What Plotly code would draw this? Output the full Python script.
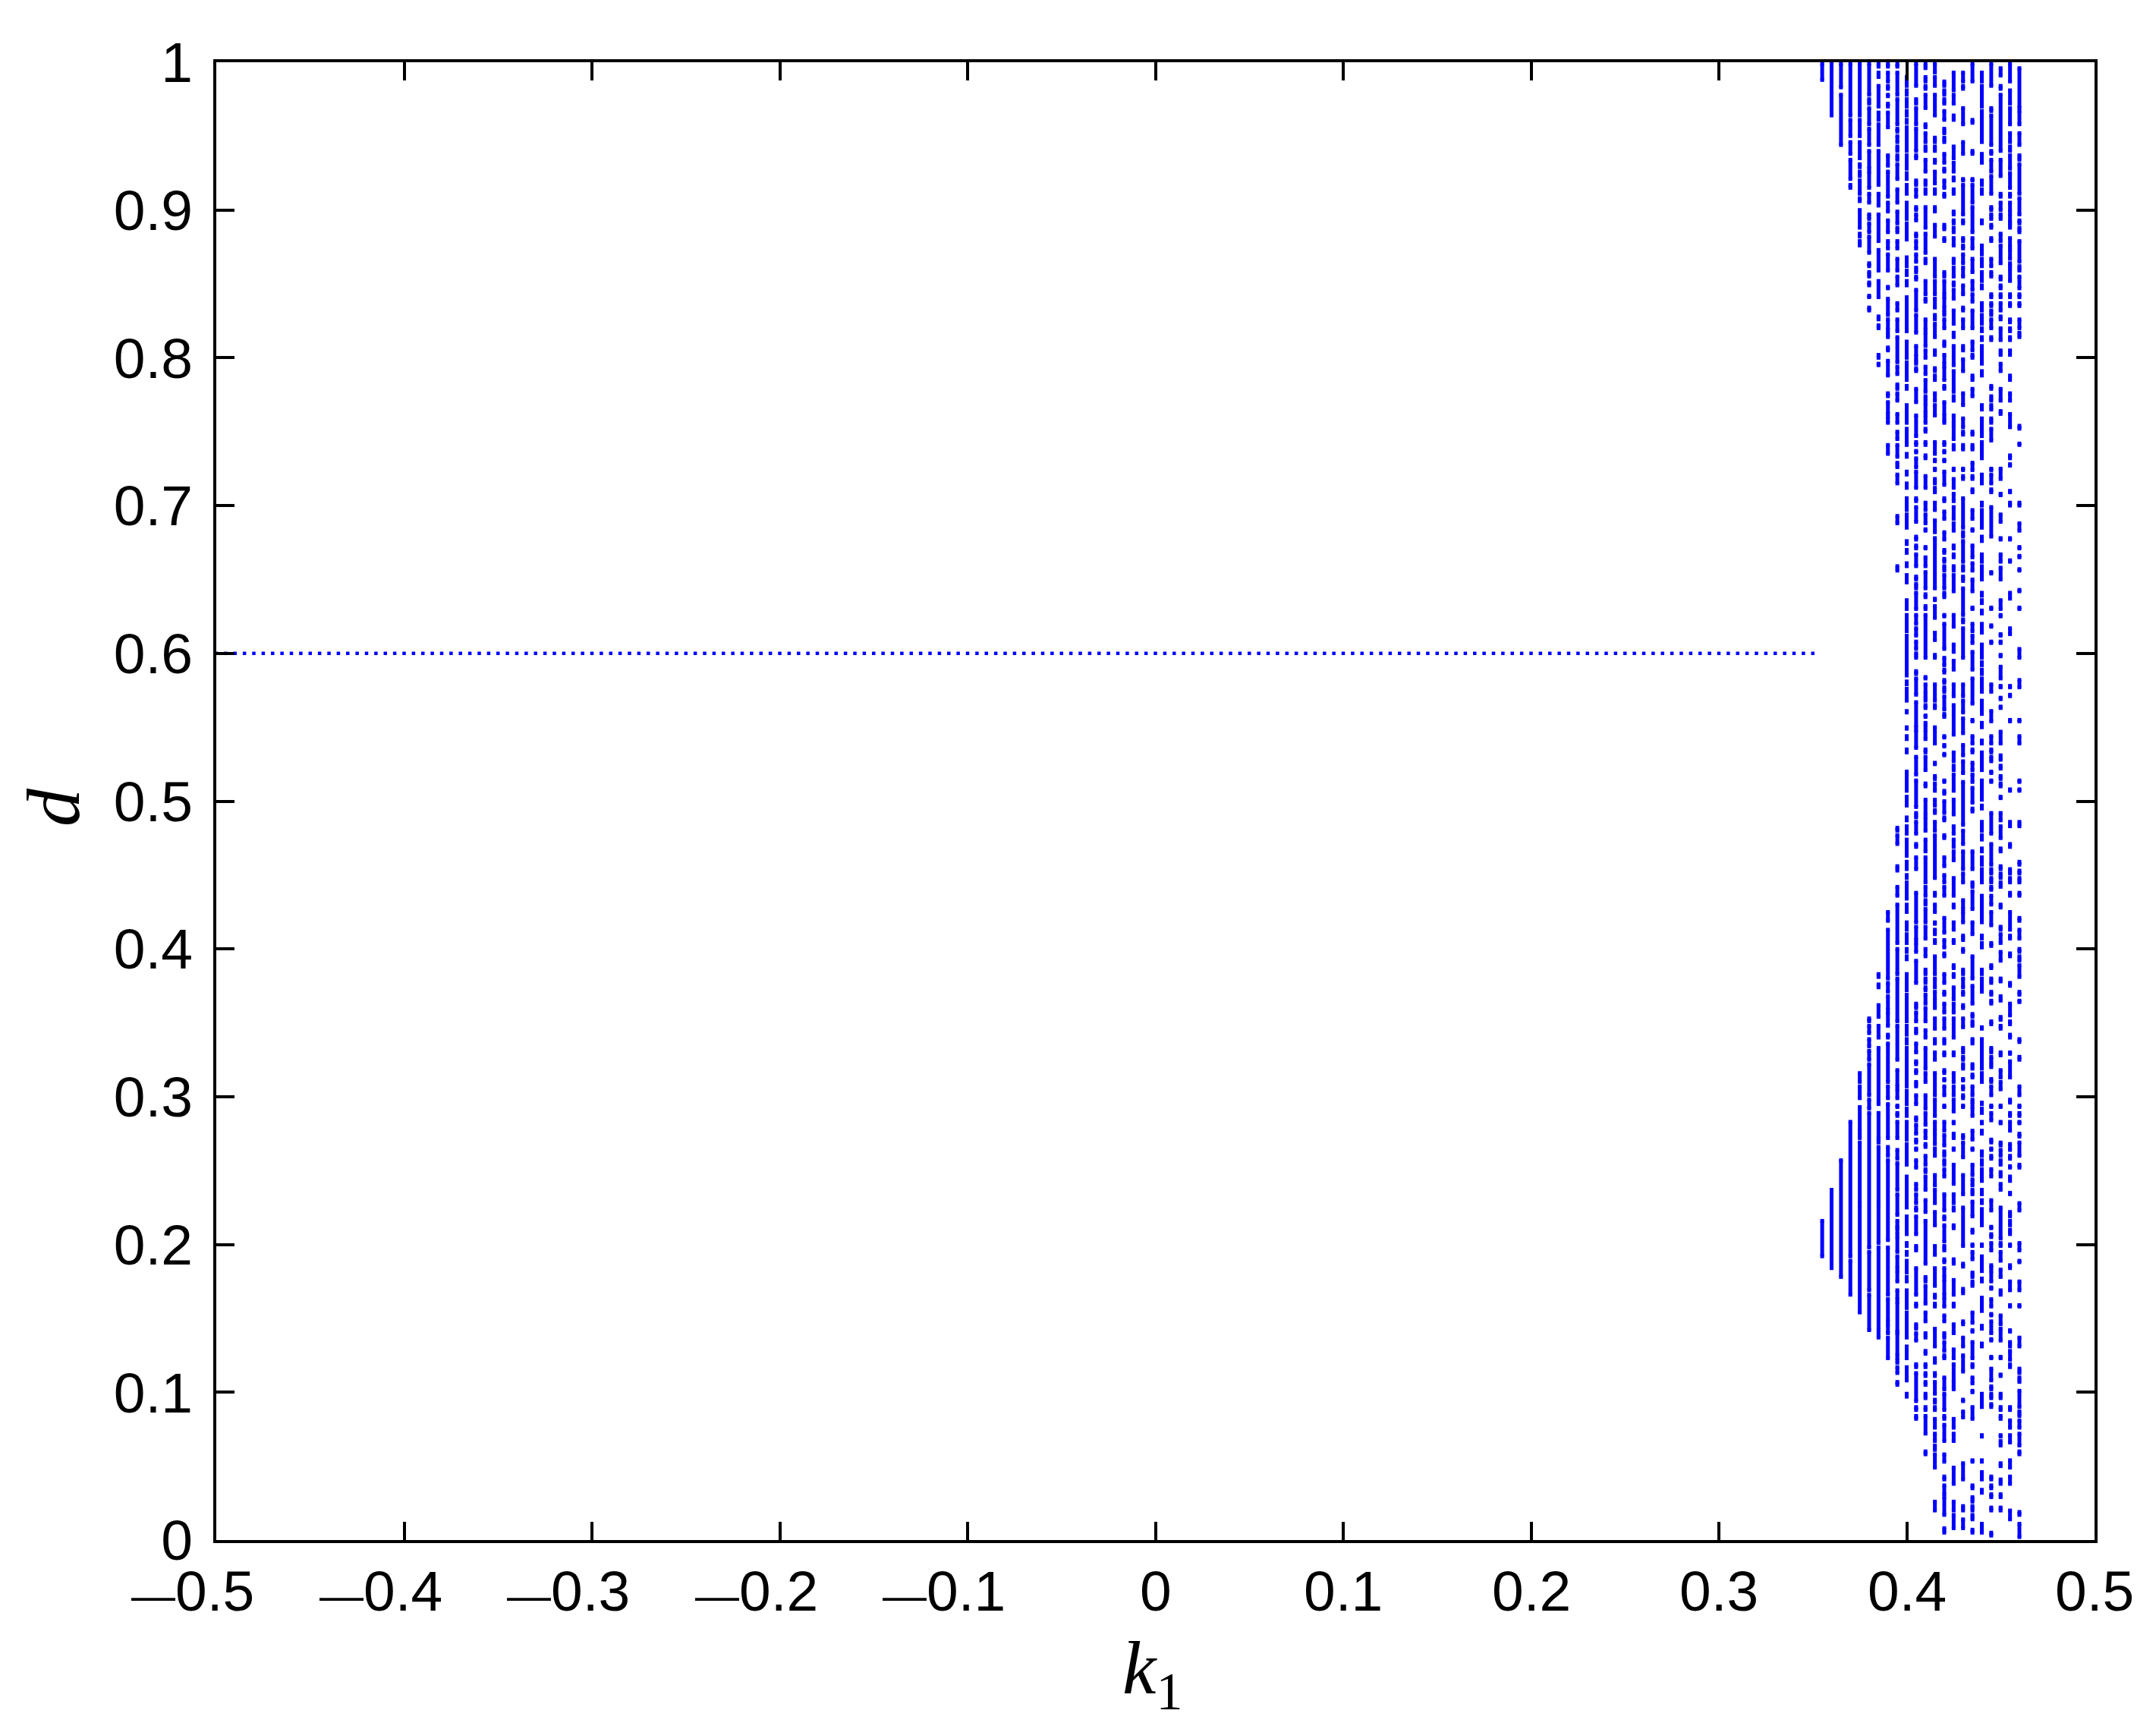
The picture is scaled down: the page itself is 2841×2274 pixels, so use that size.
import numpy as np
import plotly.graph_objects as go

# ---------------- data ----------------
# stable branch: one point every 0.005 in k1, all at d = 0.6
K1_STABLE_START = -0.5
K1_STABLE_END = 0.35
K1_STEP = 0.005
D_STABLE = 0.6

# chaotic region: k1 columns and the d-intervals visible in each column
K1_COLUMNS = [0.355, 0.360, 0.365, 0.370, 0.375, 0.380, 0.385, 0.390, 0.395, 0.400, 0.405,
              0.410, 0.415, 0.420, 0.425, 0.430, 0.435, 0.440, 0.445, 0.450, 0.455, 0.460]

D_0355 = [(0.988,0.999),(0.192,0.216)]
D_0360 = [(0.964,0.999),(0.184,0.237)]
D_0365 = [(0.983,0.999),(0.944,0.978),(0.178,0.257)]
D_0370 = [(0.964,0.999),(0.950,0.961),(0.938,0.946),(0.921,0.934),(0.915,0.917),(0.192,0.283),(0.166,0.189)]
D_0375 = [(0.964,0.999),(0.950,0.961),(0.935,0.946),(0.929,0.931),(0.923,0.926),(0.911,0.920),(0.906,0.908),
          (0.888,0.900),(0.882,0.884),(0.876,0.879),(0.310,0.316),(0.299,0.307),(0.277,0.293),(0.272,0.275),
          (0.228,0.269),(0.154,0.226)]
D_0380 = [(0.978,0.999),(0.972,0.975),(0.958,0.969),(0.944,0.955),(0.928,0.940),(0.915,0.926),(0.905,0.911),
          (0.894,0.897),(0.885,0.891),(0.871,0.882),(0.862,0.864),(0.855,0.858),(0.849,0.851),(0.841,0.842),
          (0.832,0.834),(0.351,0.353),(0.343,0.348),(0.334,0.339),(0.325,0.331),(0.301,0.322),(0.292,0.298),
          (0.198,0.289),(0.169,0.195),(0.142,0.166)]
D_0385 = [(0.997,0.999),(0.990,0.993),(0.970,0.984),(0.961,0.966),(0.944,0.958),(0.917,0.940),(0.903,0.911),
          (0.879,0.897),(0.859,0.873),(0.841,0.852),(0.826,0.828),(0.820,0.822),(0.800,0.802),(0.795,0.796),
          (0.381,0.383),(0.374,0.376),(0.354,0.362),(0.340,0.348),(0.295,0.333),(0.272,0.289),(0.269,0.271),
          (0.228,0.266),(0.201,0.226),(0.142,0.198),(0.137,0.140)]
D_0390 = [(0.997,0.999),(0.987,0.993),(0.982,0.984),(0.977,0.978),(0.970,0.972),(0.956,0.966),(0.930,0.937),
          (0.909,0.926),(0.899,0.905),(0.885,0.893),(0.874,0.879),(0.859,0.870),(0.847,0.848),(0.829,0.840),
          (0.819,0.826),(0.814,0.817),(0.805,0.807),(0.788,0.798),(0.774,0.776),(0.762,0.770),(0.756,0.760),
          (0.735,0.741),(0.419,0.425),(0.380,0.413),(0.371,0.377),(0.359,0.368),(0.348,0.357),(0.340,0.342),
          (0.310,0.336),(0.299,0.307),(0.272,0.295),(0.260,0.266),(0.203,0.257),(0.166,0.198),(0.148,0.163),
          (0.140,0.146),(0.123,0.137)]
D_0395 = [(0.997,0.999),(0.978,0.993),(0.958,0.975),(0.953,0.955),(0.946,0.950),(0.940,0.943),(0.934,0.937),
          (0.921,0.931),(0.905,0.914),(0.891,0.899),(0.885,0.888),(0.874,0.879),(0.859,0.867),(0.849,0.855),
          (0.832,0.837),(0.818,0.826),(0.797,0.814),(0.789,0.794),(0.779,0.782),(0.771,0.776),(0.756,0.762),
          (0.745,0.750),(0.733,0.741),(0.726,0.729),(0.715,0.721),(0.688,0.693),(0.656,0.659),(0.480,0.482),
          (0.471,0.477),(0.453,0.456),(0.436,0.442),(0.404,0.430),(0.383,0.400),(0.351,0.380),(0.325,0.348),
          (0.307,0.318),(0.299,0.305),(0.293,0.294),(0.287,0.289),(0.272,0.283),(0.258,0.264),(0.237,0.255),
          (0.220,0.234),(0.212,0.216),(0.207,0.211),(0.195,0.205),(0.184,0.192),(0.175,0.182),(0.163,0.169),
          (0.141,0.161),(0.125,0.140),(0.120,0.123),(0.113,0.117),(0.105,0.107)]
D_0400 = [(0.984,0.990),(0.978,0.981),(0.970,0.975),(0.964,0.967),(0.959,0.961),(0.940,0.956),(0.928,0.937),
          (0.921,0.925),(0.911,0.917),(0.894,0.905),(0.880,0.891),(0.862,0.868),(0.856,0.859),(0.849,0.852),
          (0.818,0.841),(0.809,0.811),(0.800,0.808),(0.790,0.797),(0.785,0.788),(0.779,0.781),(0.761,0.768),
          (0.756,0.759),(0.741,0.752),(0.733,0.735),(0.721,0.723),(0.712,0.715),(0.697,0.705),(0.685,0.694),
          (0.674,0.676),(0.668,0.670),(0.659,0.661),(0.648,0.653),(0.630,0.636),(0.615,0.626),(0.585,0.612),
          (0.579,0.581),(0.568,0.576),(0.560,0.561),(0.549,0.550),(0.542,0.544),(0.533,0.535),(0.514,0.520),
          (0.507,0.512),(0.497,0.503),(0.487,0.489),(0.478,0.483),(0.463,0.474),(0.454,0.459),(0.448,0.450),
          (0.434,0.445),(0.425,0.430),(0.413,0.418),(0.404,0.410),(0.398,0.400),(0.393,0.395),(0.372,0.383),
          (0.351,0.369),(0.342,0.348),(0.336,0.339),(0.324,0.333),(0.307,0.322),(0.295,0.304),(0.287,0.292),
          (0.271,0.283),(0.254,0.268),(0.230,0.246),(0.225,0.228),(0.207,0.219),(0.199,0.201),(0.193,0.195),
          (0.181,0.189),(0.175,0.178),(0.157,0.169),(0.137,0.154),(0.123,0.131),(0.108,0.117),(0.097,0.099)]
D_0405 = [(0.984,0.999),(0.972,0.975),(0.958,0.969),(0.940,0.955),(0.935,0.937),(0.917,0.920),(0.909,0.914),
          (0.900,0.902),(0.893,0.897),(0.882,0.884),(0.874,0.879),(0.865,0.870),(0.858,0.861),(0.853,0.855),
          (0.832,0.846),(0.817,0.829),(0.801,0.808),(0.796,0.799),(0.791,0.793),(0.770,0.779),(0.747,0.761),
          (0.741,0.743),(0.736,0.737),(0.726,0.732),(0.712,0.723),(0.703,0.705),(0.689,0.699),(0.677,0.679),
          (0.671,0.673),(0.659,0.667),(0.650,0.652),(0.644,0.647),(0.630,0.641),(0.620,0.626),(0.612,0.617),
          (0.603,0.608),(0.597,0.600),(0.586,0.588),(0.572,0.583),(0.550,0.567),(0.536,0.548),(0.518,0.530),
          (0.496,0.514),(0.489,0.492),(0.478,0.486),(0.469,0.471),(0.454,0.462),(0.418,0.438),(0.406,0.415),
          (0.398,0.404),(0.377,0.392),(0.360,0.363),(0.351,0.357),(0.343,0.346),(0.330,0.336),(0.322,0.324),
          (0.316,0.318),(0.307,0.310),(0.295,0.301),(0.284,0.286),(0.275,0.281),(0.269,0.271),(0.264,0.265),
          (0.252,0.257),(0.237,0.241),(0.228,0.234),(0.223,0.225),(0.207,0.219),(0.196,0.199),(0.166,0.184),
          (0.158,0.160),(0.143,0.146),(0.135,0.140),(0.117,0.119),(0.094,0.113),(0.088,0.090),(0.082,0.084)]
D_0410 = [(0.996,0.999),(0.987,0.990),(0.982,0.984),(0.969,0.978),(0.956,0.958),(0.946,0.952),(0.940,0.943),
          (0.926,0.934),(0.917,0.920),(0.911,0.914),(0.888,0.902),(0.871,0.884),(0.864,0.867),(0.843,0.852),
          (0.838,0.840),(0.819,0.826),(0.808,0.817),(0.800,0.805),(0.789,0.794),(0.777,0.785),(0.771,0.774),
          (0.763,0.769),(0.756,0.761),(0.750,0.752),(0.741,0.743),(0.732,0.734),(0.712,0.720),(0.697,0.702),
          (0.688,0.694),(0.683,0.684),(0.671,0.672),(0.659,0.665),(0.644,0.655),(0.638,0.640),(0.630,0.632),
          (0.597,0.626),(0.583,0.584),(0.573,0.579),(0.568,0.571),(0.563,0.565),(0.557,0.558),(0.550,0.553),
          (0.542,0.548),(0.533,0.535),(0.521,0.530),(0.510,0.512),(0.491,0.501),(0.480,0.489),(0.466,0.474),
          (0.445,0.462),(0.436,0.442),(0.430,0.433),(0.418,0.427),(0.407,0.415),(0.395,0.400),(0.383,0.386),
          (0.377,0.380),(0.372,0.374),(0.363,0.369),(0.351,0.360),(0.340,0.345),(0.319,0.333),(0.310,0.316),
          (0.292,0.301),(0.281,0.289),(0.272,0.277),(0.266,0.268),(0.254,0.260),(0.249,0.251),(0.237,0.246),
          (0.222,0.230),(0.187,0.216),(0.175,0.178),(0.160,0.172),(0.148,0.154),(0.137,0.140),(0.126,0.128),
          (0.117,0.119),(0.111,0.113),(0.105,0.107),(0.096,0.099),(0.088,0.090),(0.072,0.084),(0.058,0.060)]
D_0415 = [(0.993,0.999),(0.984,0.990),(0.964,0.978),(0.946,0.949),(0.940,0.943),(0.932,0.934),(0.918,0.926),
          (0.911,0.914),(0.899,0.902),(0.882,0.890),(0.855,0.867),(0.843,0.852),(0.834,0.840),(0.826,0.829),
          (0.814,0.823),(0.802,0.805),(0.791,0.793),(0.785,0.788),(0.771,0.776),(0.761,0.768),(0.735,0.743),
          (0.730,0.731),(0.724,0.725),(0.715,0.718),(0.709,0.712),(0.697,0.702),(0.682,0.690),(0.644,0.678),
          (0.636,0.637),(0.624,0.632),(0.609,0.614),(0.597,0.599),(0.568,0.579),(0.563,0.565),(0.539,0.550),
          (0.525,0.526),(0.515,0.517),(0.507,0.512),(0.497,0.501),(0.492,0.494),(0.480,0.486),(0.448,0.477),
          (0.436,0.438),(0.425,0.430),(0.417,0.418),(0.410,0.413),(0.404,0.406),(0.383,0.395),(0.374,0.380),
          (0.365,0.371),(0.360,0.363),(0.346,0.353),(0.336,0.339),(0.325,0.330),(0.301,0.316),(0.287,0.298),
          (0.277,0.283),(0.268,0.275),(0.260,0.265),(0.240,0.247),(0.228,0.237),(0.213,0.222),(0.193,0.199),
          (0.172,0.184),(0.164,0.166),(0.158,0.160),(0.131,0.143),(0.120,0.123),(0.111,0.113),(0.099,0.107),
          (0.093,0.095),(0.088,0.090),(0.076,0.082),(0.067,0.072),(0.061,0.064),(0.049,0.058),(0.020,0.026)]
D_0420 = [(0.984,0.987),(0.978,0.981),(0.972,0.975),(0.961,0.967),(0.952,0.955),(0.946,0.949),(0.932,0.938),
          (0.926,0.928),(0.915,0.920),(0.909,0.911),(0.887,0.890),(0.879,0.881),(0.855,0.858),(0.843,0.852),
          (0.834,0.841),(0.829,0.832),(0.820,0.826),(0.808,0.811),(0.796,0.802),(0.785,0.794),(0.779,0.781),
          (0.761,0.770),(0.756,0.759),(0.741,0.743),(0.736,0.737),(0.730,0.731),(0.714,0.723),(0.703,0.705),
          (0.691,0.696),(0.677,0.682),(0.668,0.670),(0.662,0.664),(0.656,0.659),(0.644,0.653),(0.638,0.641),
          (0.625,0.626),(0.603,0.620),(0.592,0.597),(0.587,0.589),(0.580,0.582),(0.574,0.577),(0.562,0.571),
          (0.557,0.559),(0.543,0.544),(0.537,0.538),(0.531,0.532),(0.513,0.514),(0.505,0.507),(0.492,0.500),
          (0.487,0.489),(0.475,0.477),(0.456,0.462),(0.445,0.450),(0.436,0.442),(0.411,0.421),(0.401,0.406),
          (0.395,0.397),(0.377,0.383),(0.369,0.371),(0.357,0.363),(0.346,0.353),(0.336,0.339),(0.328,0.330),
          (0.316,0.318),(0.311,0.312),(0.301,0.307),(0.293,0.294),(0.277,0.283),(0.267,0.274),(0.260,0.263),
          (0.254,0.257),(0.246,0.251),(0.223,0.234),(0.217,0.219),(0.202,0.213),(0.196,0.199),(0.188,0.190),
          (0.178,0.184),(0.166,0.176),(0.158,0.164),(0.148,0.152),(0.137,0.140),(0.128,0.134),(0.123,0.125),
          (0.102,0.110),(0.088,0.099),(0.082,0.084),(0.067,0.078),(0.053,0.058),(0.041,0.043),(0.031,0.037),
          (0.017,0.029),(0.005,0.008)]
D_0425 = [(0.981,0.993),(0.972,0.978),(0.961,0.964),(0.935,0.943),(0.926,0.932),(0.920,0.922),(0.911,0.914),
          (0.897,0.899),(0.891,0.893),(0.885,0.888),(0.876,0.881),(0.864,0.867),(0.855,0.861),(0.849,0.851),
          (0.840,0.846),(0.823,0.832),(0.814,0.817),(0.795,0.808),(0.777,0.791),(0.771,0.774),(0.756,0.761),
          (0.745,0.754),(0.738,0.741),(0.724,0.725),(0.712,0.718),(0.703,0.708),(0.691,0.699),(0.683,0.688),
          (0.671,0.673),(0.665,0.667),(0.656,0.659),(0.642,0.653),(0.618,0.626),(0.601,0.606),(0.589,0.595),
          (0.571,0.579),(0.545,0.565),(0.527,0.533),(0.521,0.524),(0.507,0.518),(0.491,0.501),(0.478,0.483),
          (0.469,0.474),(0.460,0.466),(0.436,0.448),(0.428,0.430),(0.413,0.418),(0.404,0.406),(0.387,0.389),
          (0.381,0.383),(0.366,0.374),(0.357,0.363),(0.340,0.353),(0.328,0.330),(0.310,0.316),(0.301,0.307),
          (0.290,0.298),(0.282,0.283),(0.272,0.275),(0.264,0.265),(0.241,0.254),(0.228,0.234),(0.223,0.225),
          (0.211,0.213),(0.187,0.190),(0.166,0.176),(0.158,0.160),(0.140,0.146),(0.123,0.129),(0.107,0.119),
          (0.102,0.105),(0.076,0.082),(0.067,0.072),(0.038,0.049),(0.020,0.026),(0.008,0.017)]
D_0430 = [(0.987,0.993),(0.982,0.984),(0.958,0.969),(0.938,0.946),(0.920,0.921),(0.897,0.917),(0.891,0.893),
          (0.879,0.881),(0.874,0.876),(0.864,0.870),(0.855,0.861),(0.843,0.849),(0.832,0.834),(0.820,0.826),
          (0.805,0.808),(0.791,0.799),(0.768,0.776),(0.753,0.759),(0.748,0.750),(0.738,0.741),(0.724,0.725),
          (0.718,0.720),(0.685,0.705),(0.679,0.682),(0.662,0.676),(0.656,0.659),(0.649,0.652),(0.626,0.644),
          (0.621,0.623),(0.597,0.617),(0.571,0.579),(0.560,0.568),(0.546,0.556),(0.531,0.538),(0.519,0.527),
          (0.484,0.513),(0.471,0.480),(0.454,0.466),(0.445,0.451),(0.427,0.433),(0.418,0.425),(0.406,0.409),
          (0.398,0.400),(0.383,0.386),(0.374,0.380),(0.369,0.371),(0.360,0.362),(0.347,0.353),(0.330,0.333),
          (0.325,0.327),(0.319,0.322),(0.311,0.312),(0.305,0.307),(0.299,0.301),(0.293,0.294),(0.272,0.274),
          (0.259,0.269),(0.234,0.247),(0.199,0.225),(0.185,0.187),(0.167,0.170),(0.146,0.148),(0.131,0.137),
          (0.114,0.125),(0.094,0.095),(0.083,0.087),(0.041,0.052),(0.020,0.023),(0.008,0.014)]
D_0435 = [(0.987,0.999),(0.959,0.961),(0.938,0.940),(0.920,0.921),(0.905,0.917),(0.885,0.902),(0.874,0.881),
          (0.858,0.867),(0.846,0.852),(0.838,0.843),(0.820,0.832),(0.805,0.811),(0.800,0.802),(0.785,0.788),
          (0.774,0.779),(0.748,0.750),(0.738,0.741),(0.724,0.729),(0.718,0.720),(0.709,0.711),(0.691,0.697),
          (0.683,0.684),(0.665,0.673),(0.656,0.661),(0.642,0.650),(0.630,0.631),(0.615,0.620),(0.607,0.612),
          (0.589,0.601),(0.566,0.583),(0.554,0.555),(0.539,0.544),(0.533,0.535),(0.521,0.526),(0.513,0.518),
          (0.499,0.509),(0.493,0.495),(0.454,0.466),(0.442,0.445),(0.427,0.439),(0.410,0.418),(0.380,0.395),
          (0.363,0.375),(0.354,0.356),(0.348,0.351),(0.336,0.339),(0.319,0.322),(0.313,0.315),(0.301,0.307),
          (0.295,0.298),(0.287,0.293),(0.271,0.277),(0.264,0.265),(0.247,0.254),(0.240,0.244),(0.234,0.237),
          (0.219,0.229),(0.208,0.210),(0.199,0.200),(0.190,0.195),(0.178,0.181),(0.172,0.175),(0.147,0.154),
          (0.141,0.142),(0.123,0.134),(0.117,0.119),(0.106,0.110),(0.100,0.101),(0.082,0.090),(0.053,0.054),
          (0.035,0.037),(0.026,0.029),(0.020,0.023),(0.014,0.017),(0.005,0.007)]
D_0440 = [(0.987,0.993),(0.970,0.984),(0.958,0.967),(0.946,0.956),(0.932,0.938),(0.917,0.920),(0.911,0.914),
          (0.891,0.893),(0.870,0.876),(0.862,0.867),(0.852,0.858),(0.847,0.849),(0.832,0.837),(0.823,0.829),
          (0.818,0.820),(0.812,0.814),(0.796,0.808),(0.788,0.791),(0.765,0.768),(0.747,0.759),(0.732,0.743),
          (0.715,0.721),(0.700,0.702),(0.685,0.697),(0.676,0.679),(0.662,0.667),(0.650,0.659),(0.639,0.641),
          (0.634,0.636),(0.627,0.629),(0.614,0.620),(0.597,0.606),(0.592,0.594),(0.586,0.589),(0.574,0.583),
          (0.559,0.568),(0.550,0.553),(0.539,0.541),(0.521,0.533),(0.509,0.514),(0.501,0.507),(0.495,0.497),
          (0.480,0.486),(0.474,0.477),(0.466,0.468),(0.457,0.462),(0.445,0.454),(0.418,0.436),(0.407,0.409),
          (0.401,0.404),(0.383,0.386),(0.371,0.380),(0.346,0.347),(0.330,0.339),(0.319,0.328),(0.310,0.316),
          (0.295,0.296),(0.289,0.292),(0.282,0.283),(0.275,0.277),(0.260,0.263),(0.254,0.257),(0.248,0.251),
          (0.243,0.246),(0.234,0.237),(0.228,0.230),(0.213,0.224),(0.199,0.200),(0.182,0.192),(0.175,0.177),
          (0.155,0.164),(0.143,0.145),(0.131,0.133),(0.090,0.099),(0.070,0.071),(0.053,0.054),(0.041,0.046),
          (0.032,0.034),(0.005,0.011)]
D_0445 = [(0.984,0.999),(0.967,0.969),(0.944,0.964),(0.938,0.940),(0.926,0.934),(0.911,0.923),(0.900,0.902),
          (0.894,0.897),(0.888,0.890),(0.879,0.881),(0.862,0.867),(0.855,0.858),(0.841,0.843),(0.835,0.837),
          (0.829,0.832),(0.820,0.826),(0.812,0.814),(0.779,0.781),(0.771,0.774),(0.765,0.768),(0.756,0.759),
          (0.744,0.752),(0.724,0.725),(0.715,0.721),(0.709,0.711),(0.679,0.699),(0.654,0.655),(0.630,0.631),
          (0.618,0.619),(0.607,0.608),(0.574,0.579),(0.554,0.561),(0.539,0.544),(0.533,0.535),(0.527,0.530),
          (0.519,0.520),(0.513,0.514),(0.478,0.492),(0.457,0.471),(0.451,0.454),(0.445,0.448),(0.440,0.442),
          (0.430,0.436),(0.416,0.425),(0.402,0.404),(0.387,0.389),(0.377,0.380),(0.369,0.371),(0.363,0.365),
          (0.349,0.351),(0.330,0.333),(0.325,0.327),(0.320,0.323),(0.310,0.312),(0.301,0.307),(0.293,0.294),
          (0.284,0.289),(0.269,0.271),(0.264,0.265),(0.258,0.260),(0.246,0.251),(0.223,0.230),(0.211,0.212),
          (0.205,0.207),(0.196,0.201),(0.184,0.186),(0.175,0.182),(0.170,0.171),(0.158,0.163),(0.152,0.153),
          (0.140,0.148),(0.135,0.136),(0.123,0.124),(0.108,0.116),(0.102,0.104),(0.096,0.099),(0.090,0.092),
          (0.041,0.043),(0.035,0.037),(0.029,0.031),(0.020,0.022),(0.003,0.005)]
D_0450 = [(0.991,0.996),(0.982,0.984),(0.940,0.978),(0.923,0.934),(0.909,0.911),(0.900,0.905),(0.894,0.897),
          (0.879,0.884),(0.864,0.876),(0.853,0.855),(0.847,0.849),(0.841,0.843),(0.832,0.837),(0.826,0.828),
          (0.812,0.820),(0.802,0.805),(0.791,0.796),(0.771,0.779),(0.762,0.764),(0.718,0.725),(0.707,0.708),
          (0.689,0.694),(0.677,0.678),(0.662,0.667),(0.650,0.658),(0.630,0.636),(0.625,0.626),(0.612,0.613),
          (0.607,0.608),(0.598,0.599),(0.583,0.591),(0.577,0.578),(0.569,0.570),(0.563,0.564),(0.539,0.547),
          (0.528,0.531),(0.522,0.524),(0.515,0.517),(0.510,0.512),(0.502,0.503),(0.487,0.492),(0.475,0.483),
          (0.466,0.468),(0.454,0.456),(0.448,0.451),(0.442,0.445),(0.428,0.430),(0.413,0.415),(0.404,0.410),
          (0.392,0.398),(0.378,0.380),(0.365,0.368),(0.352,0.354),(0.346,0.348),(0.328,0.330),(0.313,0.318),
          (0.305,0.310),(0.293,0.294),(0.282,0.283),(0.267,0.269),(0.260,0.264),(0.254,0.257),(0.246,0.249),
          (0.237,0.241),(0.204,0.225),(0.199,0.201),(0.189,0.195),(0.178,0.183),(0.166,0.169),(0.146,0.152),
          (0.135,0.143),(0.123,0.124),(0.111,0.112),(0.096,0.099),(0.088,0.090),(0.082,0.084),(0.070,0.071),
          (0.064,0.067),(0.050,0.052),(0.038,0.041),(0.029,0.031),(0.020,0.022)]
D_0455 = [(0.987,0.999),(0.972,0.981),(0.958,0.969),(0.946,0.952),(0.940,0.943),(0.928,0.937),(0.915,0.925),
          (0.909,0.911),(0.899,0.905),(0.892,0.897),(0.888,0.891),(0.875,0.881),(0.867,0.873),(0.862,0.864),
          (0.852,0.860),(0.841,0.843),(0.835,0.837),(0.824,0.826),(0.818,0.820),(0.812,0.814),(0.802,0.805),
          (0.785,0.788),(0.771,0.776),(0.753,0.762),(0.732,0.734),(0.727,0.728),(0.709,0.710),(0.700,0.702),
          (0.677,0.678),(0.662,0.663),(0.637,0.641),(0.613,0.617),(0.577,0.578),(0.571,0.572),(0.554,0.555),
          (0.507,0.508),(0.483,0.486),(0.469,0.471),(0.451,0.454),(0.445,0.448),(0.436,0.438),(0.413,0.425),
          (0.407,0.409),(0.395,0.397),(0.375,0.377),(0.355,0.363),(0.349,0.351),(0.340,0.342),(0.329,0.330),
          (0.313,0.324),(0.296,0.298),(0.287,0.289),(0.277,0.283),(0.264,0.268),(0.258,0.260),(0.252,0.253),
          (0.243,0.246),(0.234,0.235),(0.219,0.222),(0.213,0.216),(0.207,0.210),(0.199,0.200),(0.184,0.186),
          (0.169,0.175),(0.158,0.159),(0.141,0.142),(0.131,0.134),(0.122,0.128),(0.117,0.119),(0.088,0.090),
          (0.076,0.081),(0.066,0.071),(0.049,0.054),(0.038,0.043),(0.014,0.020)]
D_0460 = [(0.969,0.996),(0.958,0.967),(0.944,0.952),(0.934,0.937),(0.911,0.931),(0.897,0.908),(0.891,0.893),
          (0.885,0.888),(0.865,0.879),(0.859,0.862),(0.847,0.855),(0.841,0.843),(0.835,0.837),(0.820,0.826),
          (0.814,0.817),(0.752,0.754),(0.741,0.742),(0.700,0.702),(0.683,0.688),(0.671,0.672),(0.665,0.666),
          (0.656,0.657),(0.642,0.643),(0.630,0.631),(0.597,0.603),(0.577,0.582),(0.554,0.555),(0.539,0.544),
          (0.513,0.514),(0.507,0.508),(0.483,0.486),(0.457,0.459),(0.451,0.453),(0.445,0.448),(0.436,0.438),
          (0.419,0.421),(0.407,0.413),(0.398,0.400),(0.392,0.395),(0.381,0.389),(0.369,0.371),(0.364,0.365),
          (0.337,0.339),(0.325,0.327),(0.301,0.307),(0.293,0.294),(0.287,0.289),(0.282,0.283),(0.273,0.275),
          (0.260,0.269),(0.252,0.254),(0.223,0.228),(0.196,0.201),(0.188,0.189),(0.169,0.175),(0.158,0.159),
          (0.131,0.137),(0.113,0.116),(0.107,0.110),(0.090,0.101),(0.084,0.087),(0.076,0.081),(0.064,0.072),
          (0.058,0.060),(0.017,0.019),(0.002,0.011)]

D_COLUMNS = [D_0355, D_0360, D_0365, D_0370, D_0375, D_0380, D_0385, D_0390, D_0395, D_0400, D_0405,
             D_0410, D_0415, D_0420, D_0425, D_0430, D_0435, D_0440, D_0445, D_0450, D_0455, D_0460]

X_TICKS = [-0.5, -0.4, -0.3, -0.2, -0.1, 0.0, 0.1, 0.2, 0.3, 0.4, 0.5]
Y_TICKS = [0.0, 0.1, 0.2, 0.3, 0.4, 0.5, 0.6, 0.7, 0.8, 0.9, 1.0]
Y_TICK_TEXT = ["0", "0.1", "0.2", "0.3", "0.4", "0.5", "0.6", "0.7", "0.8", "0.9", "1"]

# ---------------- build figure ----------------
BLUE = "#0000ff"
TICK_FONT = dict(family="Liberation Sans, Arial, sans-serif", size=75, color="black")
TITLE_FONT = dict(family="Liberation Serif, Times New Roman, serif", size=100, color="black")

n_stable = int(round((K1_STABLE_END - K1_STABLE_START) / K1_STEP)) + 1
k1_stable = [round(K1_STABLE_START + i * K1_STEP, 3) for i in range(n_stable)]
d_stable = [D_STABLE] * n_stable

seg_x, seg_y = [], []
for k, segs in zip(K1_COLUMNS, D_COLUMNS):
    for lo, hi in segs:
        seg_x += [k, k, None]
        seg_y += [lo, hi, None]

fig = go.Figure()
fig.add_trace(go.Scatter(
    x=k1_stable, y=d_stable, mode="markers",
    marker=dict(symbol="square", size=4.5, color=BLUE, line=dict(width=0)),
    showlegend=False, hoverinfo="skip"))
fig.add_trace(go.Scatter(
    x=seg_x, y=seg_y, mode="lines+markers",
    line=dict(color=BLUE, width=5),
    marker=dict(symbol="square", size=5, color=BLUE, line=dict(width=0)),
    connectgaps=False, showlegend=False, hoverinfo="skip"))

W, H = 2841, 2274
ML, MR, MT, MB = 277, 89, 74, 253
PW = W - ML - MR
PH = H - MT - MB

axis_common = dict(showline=True, linecolor="black", linewidth=4, mirror="allticks",
                   ticks="inside", ticklen=24, tickwidth=4, tickcolor="black",
                   showgrid=False, zeroline=False)

fig.update_layout(
    width=W, height=H,
    margin=dict(l=ML, r=MR, t=MT, b=MB, pad=0),
    paper_bgcolor="white", plot_bgcolor="white",
    xaxis=dict(range=[-0.5, 0.5], tickvals=X_TICKS, showticklabels=False, **axis_common),
    yaxis=dict(range=[0, 1], tickvals=Y_TICKS, ticktext=Y_TICK_TEXT, tickfont=TICK_FONT,
               ticklabelstandoff=12, **axis_common),
)

# x tick labels: the number part centred on the tick, minus sign hanging to its left
half_num = 52
label_y = (MT + PH - 2088) / PH
for v in X_TICKS:
    if v < 0:
        txt = '<span style="font-size:58px">\u2014</span>' + f"{abs(v):.1f}"
        fig.add_annotation(x=v, y=label_y, xref="x", yref="paper", text=txt, showarrow=False,
                           xanchor="right", yanchor="middle", xshift=half_num, font=TICK_FONT)
    else:
        txt = "0" if v == 0 else f"{v:.1f}"
        fig.add_annotation(x=v, y=label_y, xref="x", yref="paper", text=txt, showarrow=False,
                           xanchor="center", yanchor="middle", font=TICK_FONT)

# axis titles
fig.add_annotation(x=(1510 - ML) / PW, y=(MT + PH - 2196) / PH, xref="paper", yref="paper",
                   text="<i>k</i><sub>1</sub>", showarrow=False, xanchor="center", yanchor="middle",
                   font=TITLE_FONT)
fig.add_annotation(x=(62 - ML) / PW, y=(MT + PH - 1056) / PH, xref="paper", yref="paper",
                   text="<i>d</i>", showarrow=False, textangle=-90, xanchor="center", yanchor="middle",
                   font=TITLE_FONT)

fig.write_html("out.html")
